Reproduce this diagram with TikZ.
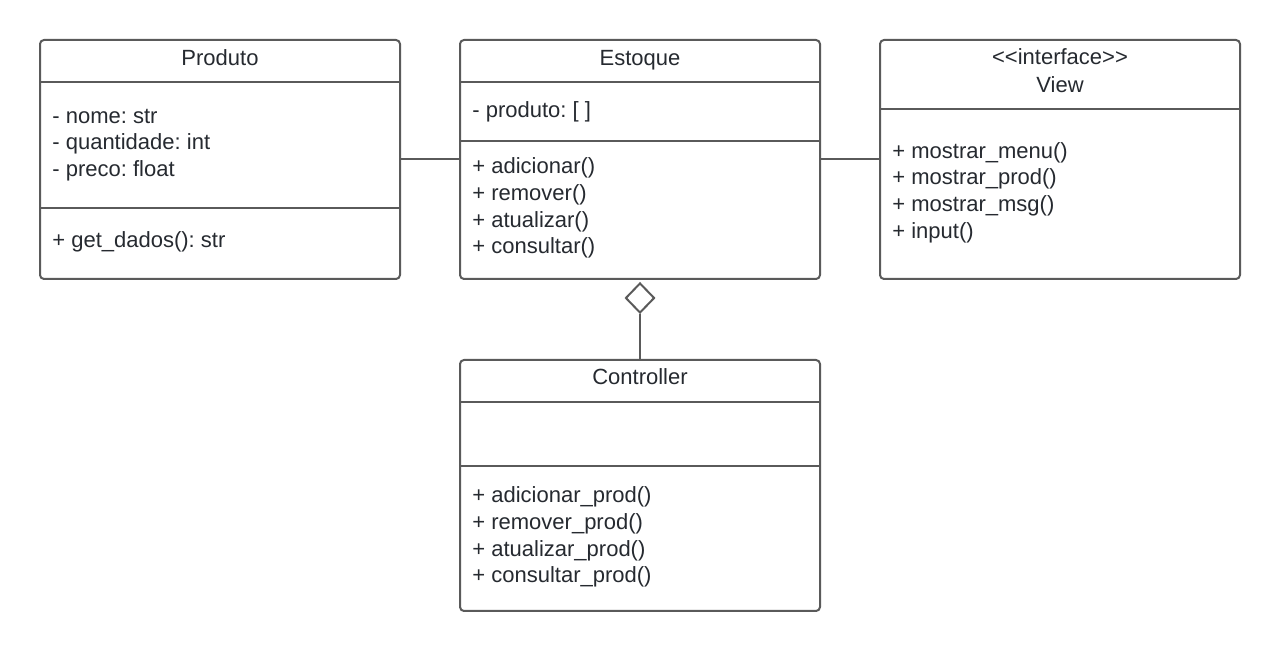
\documentclass[tikz,border=0pt]{standalone}
\usepackage{fontspec}
\setmainfont{Liberation Sans}
\usepackage{xcolor}
\usetikzlibrary{shapes.geometric}
\definecolor{umlgray}{HTML}{5A5A5A}
\definecolor{umltext}{HTML}{262A30}
\frenchspacing

\begin{document}
\begin{tikzpicture}[
    x=0.5pt, y=-0.5pt,
    classbox/.style={draw=umlgray, line width=1pt, rounded corners=2pt, minimum width=180pt, inner sep=0pt, fill=white},
    member/.style={anchor=base west, inner sep=0pt, text=umltext, font=\fontsize{11}{13}\selectfont},
    title/.style={member, anchor=base},
    sep/.style={draw=umlgray, line width=1pt},
    assoc/.style={draw=umlgray, line width=1pt}
]
\useasboundingbox (0,0) rectangle (1280,651);

% class boxes
\node[classbox, minimum height=119.5pt] (produto) at (220,159.5) {};
\node[classbox, minimum height=119.5pt] (estoque) at (640,159.5) {};
\node[classbox, minimum height=119.5pt] (view) at (1060,159.5) {};
\node[classbox, minimum height=125.5pt] (controller) at (640,485.5) {};

% compartments
\draw[sep] (produto.west |- 0,82) -- (produto.east |- 0,82);
\draw[sep] (produto.west |- 0,208) -- (produto.east |- 0,208);
\draw[sep] (estoque.west |- 0,82) -- (estoque.east |- 0,82);
\draw[sep] (estoque.west |- 0,141) -- (estoque.east |- 0,141);
\draw[sep] (view.west |- 0,109) -- (view.east |- 0,109);
\draw[sep] (controller.west |- 0,402) -- (controller.east |- 0,402);
\draw[sep] (controller.west |- 0,466) -- (controller.east |- 0,466);

% Produto
\node[title] (produto-name) at (220,66) {Produto};
\foreach \txt [count=\i] in {- nome: str, - quantidade: int, - preco: float}
    \node[member] (produto-a\i) at (52,{123.3+26.6*(\i-1)}) {\txt};
\node[member] (produto-m1) at (52,248) {+ get\_dados(): str};

% Estoque
\node[title] (estoque-name) at (640,66) {Estoque};
\node[member] (estoque-a1) at (472,117.5) {- produto: [ ]};
\foreach \txt [count=\i] in {+ adicionar(), + remover(), + atualizar(), + consultar()}
    \node[member] (estoque-m\i) at (472,{174+26.6*(\i-1)}) {\txt};

% View
\node[title] (view-stereo) at (1060,65) {<{}<interface>{}>};
\node[title] (view-name) at (1060,93) {View};
\foreach \txt [count=\i] in {+ mostrar\_menu(), + mostrar\_prod(), + mostrar\_msg(), + input()}
    \node[member] (view-m\i) at (892,{158.3+26.6*(\i-1)}) {\txt};

% Controller
\node[title] (controller-name) at (640,385) {Controller};
\foreach \txt [count=\i] in {+ adicionar\_prod(), + remover\_prod(), + atualizar\_prod(), + consultar\_prod()}
    \node[member] (controller-m\i) at (472,{503+26.6*(\i-1)}) {\txt};

% relations
\draw[assoc] (produto) -- (estoque);
\draw[assoc] (estoque) -- (view);
\node[diamond, draw=umlgray, line width=1pt, fill=white, inner sep=0pt, minimum width=14.5pt, minimum height=15pt] (agg) at (640,298) {};
\draw[assoc] (agg) -- (controller);
\end{tikzpicture}
\end{document}
